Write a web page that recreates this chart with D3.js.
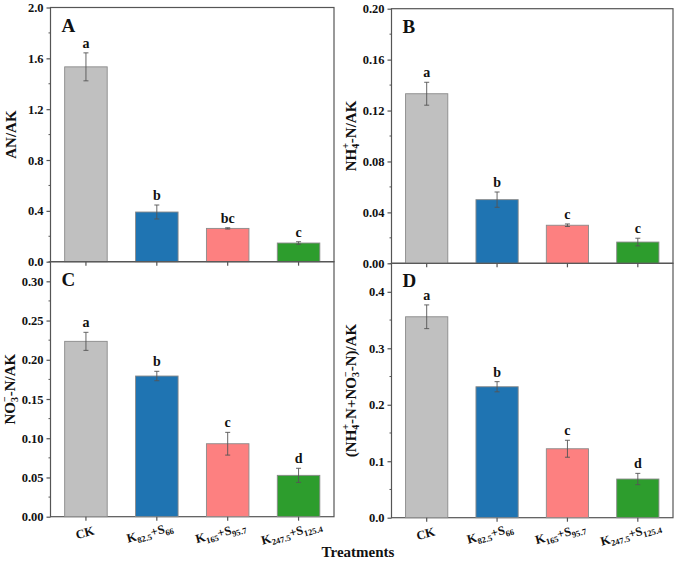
<!DOCTYPE html>
<html>
<head>
<meta charset="utf-8">
<script src="https://cdn.jsdelivr.net/npm/d3@7"></script>
<style>
  html, body { margin: 0; padding: 0; background: #fff; }
  svg { display: block; }
  svg text { font-family: "Liberation Serif", "DejaVu Serif", serif !important; }
</style>
</head>
<body>
<svg id="chart" width="680" height="561"></svg>
<script>
// ---------- data ----------
const categories = ["CK", "K82.5+S66", "K165+S95.7", "K247.5+S125.4"];
const categoryParts = [
  [["CK", ""]],
  [["K", ""], ["82.5", "sub"], ["+", ""], ["S", ""], ["66", "sub"]],
  [["K", ""], ["165", "sub"], ["+", ""], ["S", ""], ["95.7", "sub"]],
  [["K", ""], ["247.5", "sub"], ["+", ""], ["S", ""], ["125.4", "sub"]]
];
const barColors = ["#c0c0c0", "#1f74b2", "#fd8080", "#2d9d2d"];

const valuesA = [1.533, 0.391, 0.262, 0.147];
const errorsA = [0.11, 0.055, 0.005, 0.01];
const lettersA = ["a", "b", "bc", "c"];
const ticksA = [0, 0.4, 0.8, 1.2, 1.6, 2.0];

const valuesB = [0.1332, 0.050, 0.0299, 0.0167];
const errorsB = [0.009, 0.006, 0.001, 0.003];
const lettersB = ["a", "b", "c", "c"];
const ticksB = [0, 0.04, 0.08, 0.12, 0.16, 0.20];

const valuesC = [0.2235, 0.1793, 0.093, 0.0527];
const errorsC = [0.0115, 0.006, 0.0145, 0.009];
const lettersC = ["a", "b", "c", "d"];
const ticksC = [0, 0.05, 0.10, 0.15, 0.20, 0.25, 0.30];

const valuesD = [0.3558, 0.2319, 0.1221, 0.0685];
const errorsD = [0.021, 0.009, 0.015, 0.01];
const lettersD = ["a", "b", "c", "d"];
const ticksD = [0, 0.1, 0.2, 0.3, 0.4];

// ---------- drawing ----------
const svg = d3.select("#chart");
const axisColor = "#555";

function drawPanel(p) {
  const g = svg.append("g");
  const x = d3.scaleBand().domain(categories).range([p.x0, p.x1]).paddingInner(0.4).paddingOuter(0.2);
  const y = d3.scaleLinear().domain([0, p.ymax]).range([p.y1, p.y0]);

  // frame
  g.append("rect").attr("x", p.x0).attr("y", p.y0)
    .attr("width", p.x1 - p.x0).attr("height", p.y1 - p.y0)
    .attr("fill", "none").attr("stroke", axisColor).attr("stroke-width", 1.2);

  // bars
  g.selectAll("rect.bar").data(p.values).join("rect").attr("class", "bar")
    .attr("x", (d, i) => x(categories[i]))
    .attr("y", d => y(d))
    .attr("width", x.bandwidth())
    .attr("height", d => y(0) - y(d))
    .attr("fill", (d, i) => barColors[i])
    .attr("stroke", "#8a8a8a").attr("stroke-width", 0.9);

  // error bars
  const cx = i => x(categories[i]) + x.bandwidth() / 2;
  p.values.forEach((v, i) => {
    const e = p.errors[i];
    const c = cx(i);
    g.append("line").attr("x1", c).attr("x2", c).attr("y1", y(v + e)).attr("y2", y(v - e))
      .attr("stroke", "#555").attr("stroke-width", 0.9);
    [v + e, v - e].forEach(w => {
      g.append("line").attr("x1", c - 2.5).attr("x2", c + 2.5).attr("y1", y(w)).attr("y2", y(w))
        .attr("stroke", "#555").attr("stroke-width", 0.9);
    });
    g.append("text").attr("x", c).attr("y", y(v + e) - 5)
      .attr("text-anchor", "middle").attr("font-size", 14).attr("font-weight", "bold")
      .attr("fill", "#111").text(p.letters[i]);
  });

  // y axis
  const yAxis = d3.axisLeft(y).tickValues(p.ticks).tickSize(4).tickPadding(3)
    .tickFormat(d3.format(p.fmt));
  const ya = g.append("g").attr("transform", `translate(${p.x0},0)`).call(yAxis);
  ya.select(".domain").remove();
  ya.selectAll(".tick line").attr("stroke", axisColor).attr("stroke-width", 1.2);
  ya.selectAll(".tick text").attr("font-size", 12.5).attr("font-weight", "bold")
    .attr("fill", "#111");
  // minor ticks
  const minor = [];
  for (let k = 0; k < p.ticks.length - 1; k++) minor.push((p.ticks[k] + p.ticks[k + 1]) / 2);
  const last = p.ticks[p.ticks.length - 1];
  const step = p.ticks[1] - p.ticks[0];
  if (last + step / 2 <= p.ymax + 1e-9) minor.push(last + step / 2);
  g.selectAll("line.minor").data(minor).join("line").attr("class", "minor")
    .attr("x1", p.x0 - 2).attr("x2", p.x0).attr("y1", d => y(d)).attr("y2", d => y(d))
    .attr("stroke", axisColor).attr("stroke-width", 1);

  // x ticks (bottom)
  const xAxis = d3.axisBottom(x).tickSize(4).tickFormat("");
  const xa = g.append("g").attr("transform", `translate(0,${p.y1})`).call(xAxis);
  xa.select(".domain").remove();
  xa.selectAll(".tick line").attr("stroke", axisColor).attr("stroke-width", 1.2);

  if (p.showX) {
    categories.forEach((c, i) => {
      const tx = cx(i) - (i === 0 ? 0 : 6);
      const t = g.append("text")
        .attr("transform", `translate(${tx},${p.y1 + 20}) rotate(-15)`)
        .attr("text-anchor", "middle").attr("font-size", 12.5).attr("font-weight", "bold")
        .attr("fill", "#111");
      categoryParts[i].forEach(([s, kind], j) => {
        const ts = t.append("tspan").text(s);
        const prev = j > 0 ? categoryParts[i][j - 1][1] : "";
        if (kind === "sub") { ts.attr("font-size", 8.5).attr("dy", prev === "sub" ? 0 : 3); }
        else if (prev === "sub") { ts.attr("dy", -3); }
      });
    });
  }

  // panel letter
  g.append("text").attr("x", p.x0 + 11).attr("y", p.y0 + 24)
    .attr("font-size", 19).attr("font-weight", "bold").attr("fill", "#111").text(p.label);

  // y title
  const yt = g.append("text")
    .attr("transform", `translate(${p.titleX},${(p.y0 + p.y1) / 2}) rotate(-90)`)
    .attr("text-anchor", "middle").attr("dominant-baseline", "middle")
    .attr("font-size", 15).attr("font-weight", "bold").attr("fill", "#111");
  p.title.forEach(([s, kind]) => {
    const ts = yt.append("tspan").text(s);
    if (kind === "sub") ts.attr("font-size", 10).attr("dy", 4);
    else if (kind === "sup") ts.attr("font-size", 10).attr("dy", -10).attr("dx", -5);
    else if (kind === "after") ts.attr("dy", 6);
  });
}

drawPanel({ x0: 50.5, x1: 334, y0: 7.5, y1: 261.7, ymax: 2.0, values: valuesA, errors: errorsA,
  letters: lettersA, ticksA: null, ticks: ticksA, fmt: ".1f", label: "A", titleX: 13,
  title: [["AN/AK", ""]], showX: false });
drawPanel({ x0: 391.5, x1: 673, y0: 8.7, y1: 263.3, ymax: 0.20, values: valuesB, errors: errorsB,
  letters: lettersB, ticks: ticksB, fmt: ".2f", label: "B", titleX: 353,
  title: [["NH", ""], ["4", "sub"], ["+", "sup"], ["-N/AK", "after"]], showX: false });
drawPanel({ x0: 50.5, x1: 334, y0: 261.7, y1: 516.7, ymax: 0.325, values: valuesC, errors: errorsC,
  letters: lettersC, ticks: ticksC, fmt: ".2f", label: "C", titleX: 12,
  title: [["NO", ""], ["3", "sub"], ["−", "sup"], ["-N/AK", "after"]], showX: true });
drawPanel({ x0: 391.5, x1: 673, y0: 263.3, y1: 517.7, ymax: 0.4505, values: valuesD, errors: errorsD,
  letters: lettersD, ticks: ticksD, fmt: ".1f", label: "D", titleX: 353,
  title: [["(NH", ""], ["4", "sub"], ["+", "sup"], ["-N+NO", "after"], ["3", "sub"], ["−", "sup"], ["-N)/AK", "after"]], showX: true });

svg.append("text").attr("x", 358).attr("y", 557).attr("text-anchor", "middle")
  .attr("font-size", 15).attr("font-weight", "bold").attr("fill", "#111").text("Treatments");
</script>
</body>
</html>
